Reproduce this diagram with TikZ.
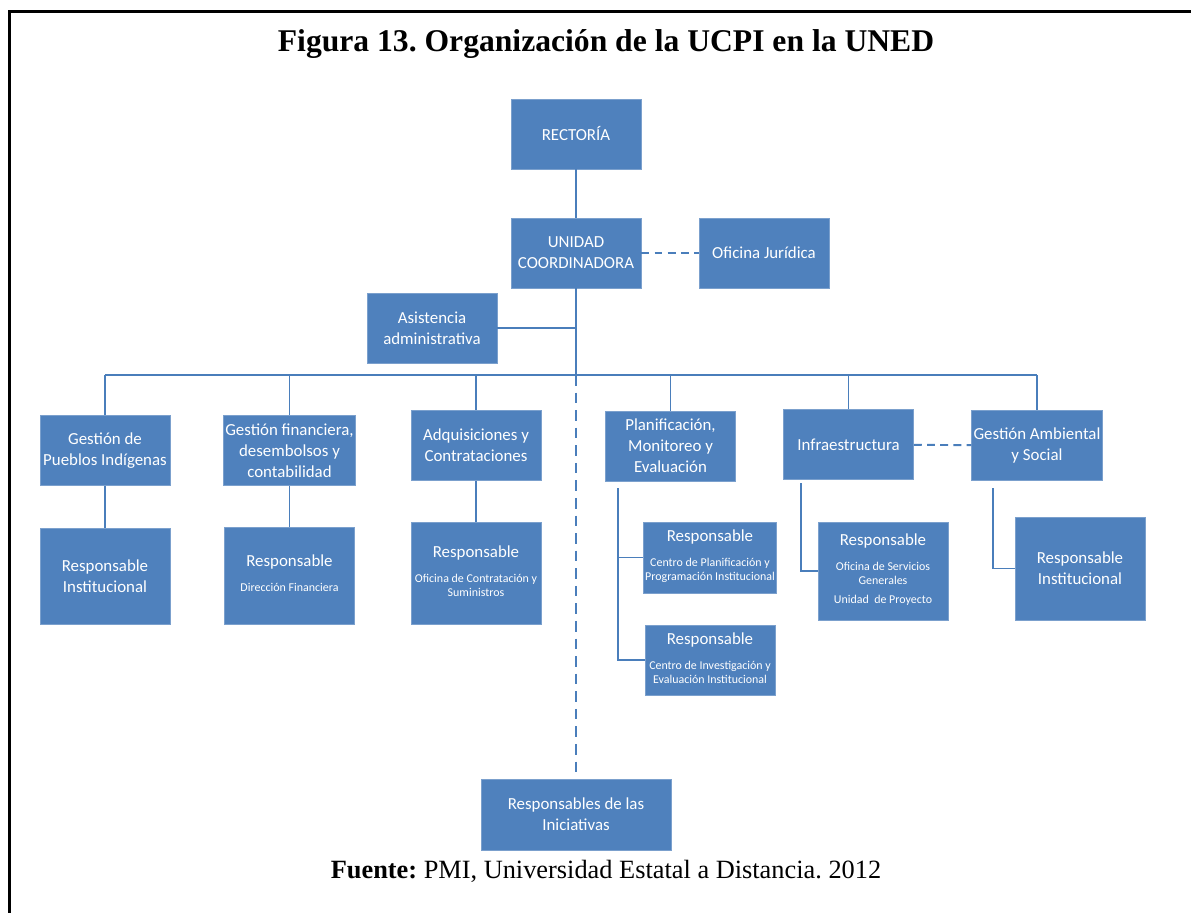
\documentclass[tikz,border=0pt]{standalone}
\usepackage{fontspec}
\setmainfont{Liberation Serif}
\newfontfamily\boxfont{Carlito}
\usetikzlibrary{positioning}
\definecolor{ucpiblue}{HTML}{4F81BD}
\definecolor{ucpiline}{HTML}{4A7EBB}
\newcommand{\detail}[1]{{\fontsize{6.8}{8}\selectfont\begin{tabular}[t]{@{}c@{}}#1\end{tabular}}}
\frenchspacing

\begin{document}
\begin{tikzpicture}[x=0.02cm, y=-0.02cm,
    unit/.style={fill=ucpiblue, draw=ucpiblue!75!white, line width=0.4pt, text=white,
        minimum width=2.6cm, minimum height=1.4cm, align=center, inner sep=1pt,
        font=\boxfont\fontsize{9.6}{12}\selectfont},
    link/.style={draw=ucpiline, line width=1.1pt},
    dlink/.style={link, dash pattern=on 4.5pt off 3pt},
    longdash/.style={link, dash pattern=on 6pt off 4pt}]
    \useasboundingbox (0,0) rectangle (1191,913);
    \draw[line width=1.7pt] (9.5,913) -- (9.5,11.5) -- (1191,11.5);

    \node[font=\bfseries\fontsize{18}{21}\selectfont] (title) at (606,44) {Figura 13. Organización de la UCPI en la UNED};
    \node[font=\fontsize{15}{18}\selectfont] (source) at (606,871) {\textbf{Fuente:} PMI, Universidad Estatal a Distancia. 2012};

    \node[unit] (rect) at (576,134) {RECTORÍA};
    \node[unit] (unid) at (576,253) {UNIDAD\\COORDINADORA};
    \node[unit] (jur) at (764,253) {Oficina Jurídica};
    \node[unit] (asis) at (432,328) {Asistencia\\administrativa};

    \node[unit] (g1) at (105,450.5) {Gestión de\\Pueblos Indígenas};
    \node[unit] (g2) at (289.5,450.5) {Gestión financiera,\\desembolsos y\\contabilidad};
    \node[unit] (g3) at (476,445.5) {Adquisiciones y\\Contrataciones};
    \node[unit] (g4) at (670.5,446) {Planificación,\\Monitoreo y\\Evaluación};
    \node[unit] (g5) at (848.5,444.5) {Infraestructura};
    \node[unit] (g6) at (1037,445.5) {Gestión Ambiental\\y Social};

    \node[unit, minimum height=1.92cm] (r1) at (105,576) {Responsable\\Institucional};
    \node[unit, minimum height=1.94cm] (r2) at (289.5,575.5) {Responsable\\[2pt]\detail{Dirección Financiera}};
    \node[unit, minimum height=2.04cm] (r3) at (476,573) {Responsable\\[2pt]\detail{Oficina de Contratación y\\Suministros}};
    \node[unit, minimum height=1.42cm] (rp1) at (710,557.5) {Responsable\\[2pt]\detail{Centro de Planificación y\\Programación Institucional}};
    \node[unit] (rp2) at (710,660) {Responsable\\[2pt]\detail{Centro de Investigación y\\Evaluación Institucional}};
    \node[unit, minimum height=1.96cm] (r5) at (883,571) {Responsable\\[2pt]\detail{Oficina de Servicios\\Generales\\[3pt]Unidad\ \ de Proyecto}};
    \node[unit, minimum height=2.06cm] (r6) at (1080,568.5) {Responsable\\Institucional};

    \node[unit, minimum width=3.8cm, minimum height=1.42cm] (inic) at (576,814.5) {Responsables de las\\Iniciativas};

    % upper part
    \coordinate (bus) at (576,375);
    \draw[link] (rect) -- (unid);
    \draw[dlink] (unid) -- (jur);
    \draw[link] (unid.south) -- (bus);
    \draw[link] (asis.east) -- (asis.east -| bus);
    \draw[longdash] (bus) -- (inic.north);

    % bus and areas
    \draw[link] (g1.north |- bus) -- (g6.north |- bus);
    \foreach \g in {g1,g2,g3,g4,g5,g6}
        \draw[link] (\g.north |- bus) -- (\g.north);
    \draw[dlink] (g5) -- (g6);

    % responsables
    \draw[link] (g1) -- (r1);
    \draw[link] (g2) -- (r2);
    \draw[link] (g3) -- (r3);
    \coordinate (pl) at (618,488);
    \draw[link] (pl) |- (rp1.west);
    \draw[link] (pl) |- (rp2.west);
    \coordinate (inf) at (801,483);
    \draw[link] (inf) |- (r5.west);
    \coordinate (amb) at (993,488);
    \draw[link] (amb) |- (r6.west);
\end{tikzpicture}
\end{document}
